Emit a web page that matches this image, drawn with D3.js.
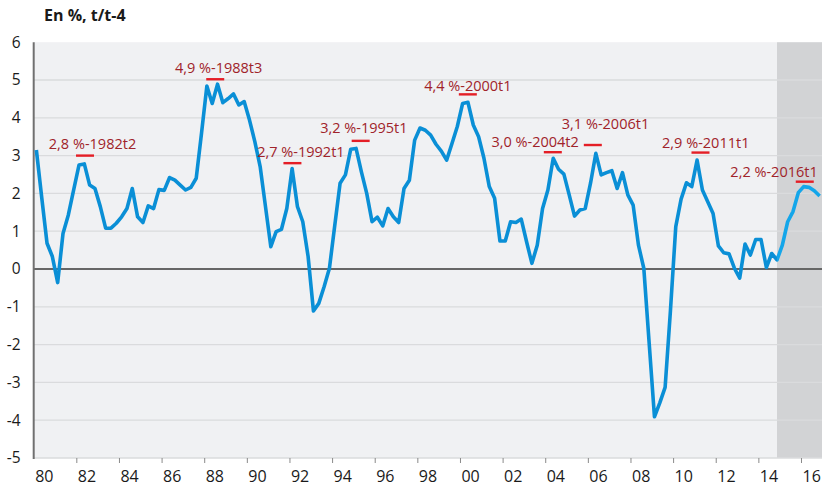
<!doctype html>
<html>
<head>
<meta charset="UTF-8">
<title>PIB t/t-4</title>
<script src="https://cdn.jsdelivr.net/npm/d3@7"></script>
<style>
    body { margin: 0; background: #fff; }
    .title { font-family: "Open Sans", Arial, sans-serif; font-weight: 700; font-size: 16px; fill: #1a1a1a; }
    .tick text { font-family: "Open Sans", Arial, sans-serif; fill: #1a1a1a; }
    .annot { font-family: "Open Sans", Arial, sans-serif; font-size: 14.5px; fill: #a0232a; text-anchor: middle; }
</style>
</head>
<body>
<script>
    // quarterly growth, 1980t1 -> 2016t4
    var startYear = 1980;
    var values = [
        3.15, 1.9, 0.68, 0.33, -0.36, 0.94, 1.43, 2.09, 2.75, 2.78,
        2.22, 2.13, 1.65, 1.08, 1.08, 1.21, 1.38, 1.6, 2.13, 1.38,
        1.23, 1.67, 1.6, 2.1, 2.08, 2.42, 2.35, 2.22, 2.09, 2.16,
        2.4, 3.6, 4.84, 4.38, 4.89, 4.4, 4.51, 4.63, 4.34, 4.43,
        3.94, 3.37, 2.71, 1.65, 0.59, 0.99, 1.05, 1.6, 2.66, 1.65,
        1.25, 0.33, -1.11, -0.91, -0.47, 0.02, 1.15, 2.27, 2.49, 3.17,
        3.19, 2.57, 2.0, 1.25, 1.37, 1.14, 1.6, 1.38, 1.23, 2.13,
        2.35, 3.41, 3.73, 3.67, 3.54, 3.3, 3.12, 2.88, 3.32, 3.77,
        4.38, 4.41, 3.81, 3.5, 2.93, 2.18, 1.87, 0.74, 0.74, 1.25,
        1.23, 1.32, 0.72, 0.15, 0.63, 1.6, 2.09, 2.93, 2.64, 2.51,
        1.96, 1.4, 1.56, 1.6, 2.27, 3.06, 2.49, 2.55, 2.6, 2.13,
        2.55, 1.96, 1.69, 0.63, 0.02, -1.95, -3.91, -3.54, -3.13, -1.1,
        1.12, 1.85, 2.28, 2.18, 2.88, 2.09, 1.78, 1.47, 0.61, 0.43,
        0.4, 0.02, -0.24, 0.66, 0.37, 0.78, 0.78, 0.04, 0.41, 0.24,
        0.63, 1.25, 1.52, 2.02, 2.18, 2.16, 2.07, 1.93
    ];

    var yTicks = [-5, -4, -3, -2, -1, 0, 1, 2, 3, 4, 5, 6];
    var xTickYears = [1980, 1982, 1984, 1986, 1988, 1990, 1992, 1994, 1996, 1998,
                      2000, 2002, 2004, 2006, 2008, 2010, 2012, 2014, 2016];
    var forecastFrom = 2014.875;

    var annotTexts = ["2,8 %-1982t2", "4,9 %-1988t3", "2,7 %-1992t1", "3,2 %-1995t1", "4,4 %-2000t1",
                      "3,0 %-2004t2", "3,1 %-2006t1", "2,9 %-2011t1", "2,2 %-2016t1"];
    var annotQuarters = ["1982t2", "1988t3", "1992t1", "1995t1", "2000t1", "2004t2", "2006t1", "2011t1", "2016t1"];
    var annotLevels = [3.0, 5.02, 2.8, 3.39, 4.62, 3.09, 3.28, 3.08, 2.31];

    // layout nudges for the labels: [bar dx, text dx, text dy]
    var nudges = [[0.7, 7.5, -6.4], [-2.3, 3.4, -6.6], [0.3, 8.5, -6.3], [4.6, 3.2, -7.4], [5.2, 0, -3.6],
                  [-0.4, -17.7, -5], [2.3, 12.7, -15.7], [3.4, 5.3, -4.4], [1.1, -30.7, -5]];

    var W = 822, H = 487;
    var pLeft = 33.7, pRight = 822.3, pTop = 42.2, pBottom = 458;

    var svg = d3.select("body").append("svg")
        .attr("width", W)
        .attr("height", H);

    var x = d3.scaleLinear().domain([1980, 2017]).range([pLeft, pRight]);
    var y = d3.scaleLinear().domain([-5, 6]).range([pBottom, pTop]);

    var data = values.map(function (v, i) {
        return { t: startYear + (i + 0.5) / 4, v: v };
    });

    function quarterIndex(q) {
        var p = q.split("t");
        return (+p[0] - startYear) * 4 + (+p[1] - 1);
    }

    // backgrounds
    svg.append("rect")
        .attr("x", pLeft).attr("y", pTop)
        .attr("width", x(forecastFrom) - pLeft).attr("height", pBottom - pTop)
        .attr("fill", "#f0f1f3");
    svg.append("rect")
        .attr("x", x(forecastFrom)).attr("y", pTop)
        .attr("width", W - x(forecastFrom)).attr("height", pBottom - pTop)
        .attr("fill", "#d2d3d5");

    // grid
    svg.append("g").selectAll("line")
        .data(yTicks.filter(function (d) { return d !== 0 && d !== 6; }))
        .enter().append("line")
        .attr("x1", pLeft).attr("x2", W)
        .attr("y1", function (d) { return y(d); })
        .attr("y2", function (d) { return y(d); })
        .style("stroke", "#dadbdd")
        .style("stroke-width", 1.3);

    // y axis
    var yAxis = svg.append("g")
        .attr("transform", "translate(" + pLeft + ",0)")
        .call(d3.axisLeft(y).tickValues(yTicks).tickSize(0).tickPadding(13)
            .tickFormat(function (d) { return d; }));
    yAxis.select(".domain").remove();
    yAxis.selectAll("text").style("font-size", "15.5px");

    // x axis: ticks between years, labels centred on the year
    var xAxis = svg.append("g")
        .attr("transform", "translate(0," + pBottom + ")")
        .call(d3.axisBottom(x).tickValues(xTickYears.slice(1)).tickSize(5).tickFormat(""));
    xAxis.select(".domain").remove();
    xAxis.selectAll("line").style("stroke", "#8a8a8a");
    svg.append("g").selectAll("text")
        .data(xTickYears)
        .enter().append("text")
        .attr("x", function (d) { return x(d + 0.5); })
        .attr("y", 482)
        .attr("text-anchor", "middle")
        .style("font-family", "'Open Sans', Arial, sans-serif")
        .style("font-size", "16px")
        .style("fill", "#1a1a1a")
        .text(function (d) { return String(d).slice(2); });

    // zero line and left axis line
    svg.append("line")
        .attr("x1", pLeft).attr("x2", W)
        .attr("y1", y(0)).attr("y2", y(0))
        .style("stroke", "#666")
        .style("stroke-width", 2);
    svg.append("line")
        .attr("x1", pLeft).attr("x2", pLeft)
        .attr("y1", pTop).attr("y2", pBottom + 1)
        .style("stroke", "#707070")
        .style("stroke-width", 2);

    // series, lighter colour over the forecast band
    var defs = svg.append("defs");
    defs.append("clipPath").attr("id", "past").append("rect")
        .attr("x", 0).attr("y", 0).attr("width", x(forecastFrom)).attr("height", H);
    defs.append("clipPath").attr("id", "fut").append("rect")
        .attr("x", x(forecastFrom)).attr("y", 0).attr("width", W).attr("height", H);

    var line = d3.line()
        .x(function (d) { return x(d.t); })
        .y(function (d) { return y(d.v); });

    svg.append("path").datum(data)
        .attr("d", line)
        .attr("clip-path", "url(#past)")
        .style("fill", "none")
        .style("stroke", "#0a8fd6")
        .style("stroke-width", 3.6)
        .style("stroke-linejoin", "round");
    svg.append("path").datum(data)
        .attr("d", line)
        .attr("clip-path", "url(#fut)")
        .style("fill", "none")
        .style("stroke", "#14a6ea")
        .style("stroke-width", 3.6)
        .style("stroke-linejoin", "round");

    // peak labels
    annotTexts.forEach(function (txt, k) {
        var d = data[quarterIndex(annotQuarters[k])];
        var cx = x(d.t) + nudges[k][0];
        var by = y(annotLevels[k]);
        svg.append("line")
            .attr("x1", cx - 9).attr("x2", cx + 9)
            .attr("y1", by).attr("y2", by)
            .style("stroke", "#e41e26")
            .style("stroke-width", 2.4);
        svg.append("text")
            .attr("class", "annot")
            .attr("x", cx + nudges[k][1])
            .attr("y", by + nudges[k][2])
            .text(txt);
    });

    svg.append("text")
        .attr("class", "title")
        .attr("x", 44)
        .attr("y", 21)
        .text("En %, t/t-4");
</script>
</body>
</html>
